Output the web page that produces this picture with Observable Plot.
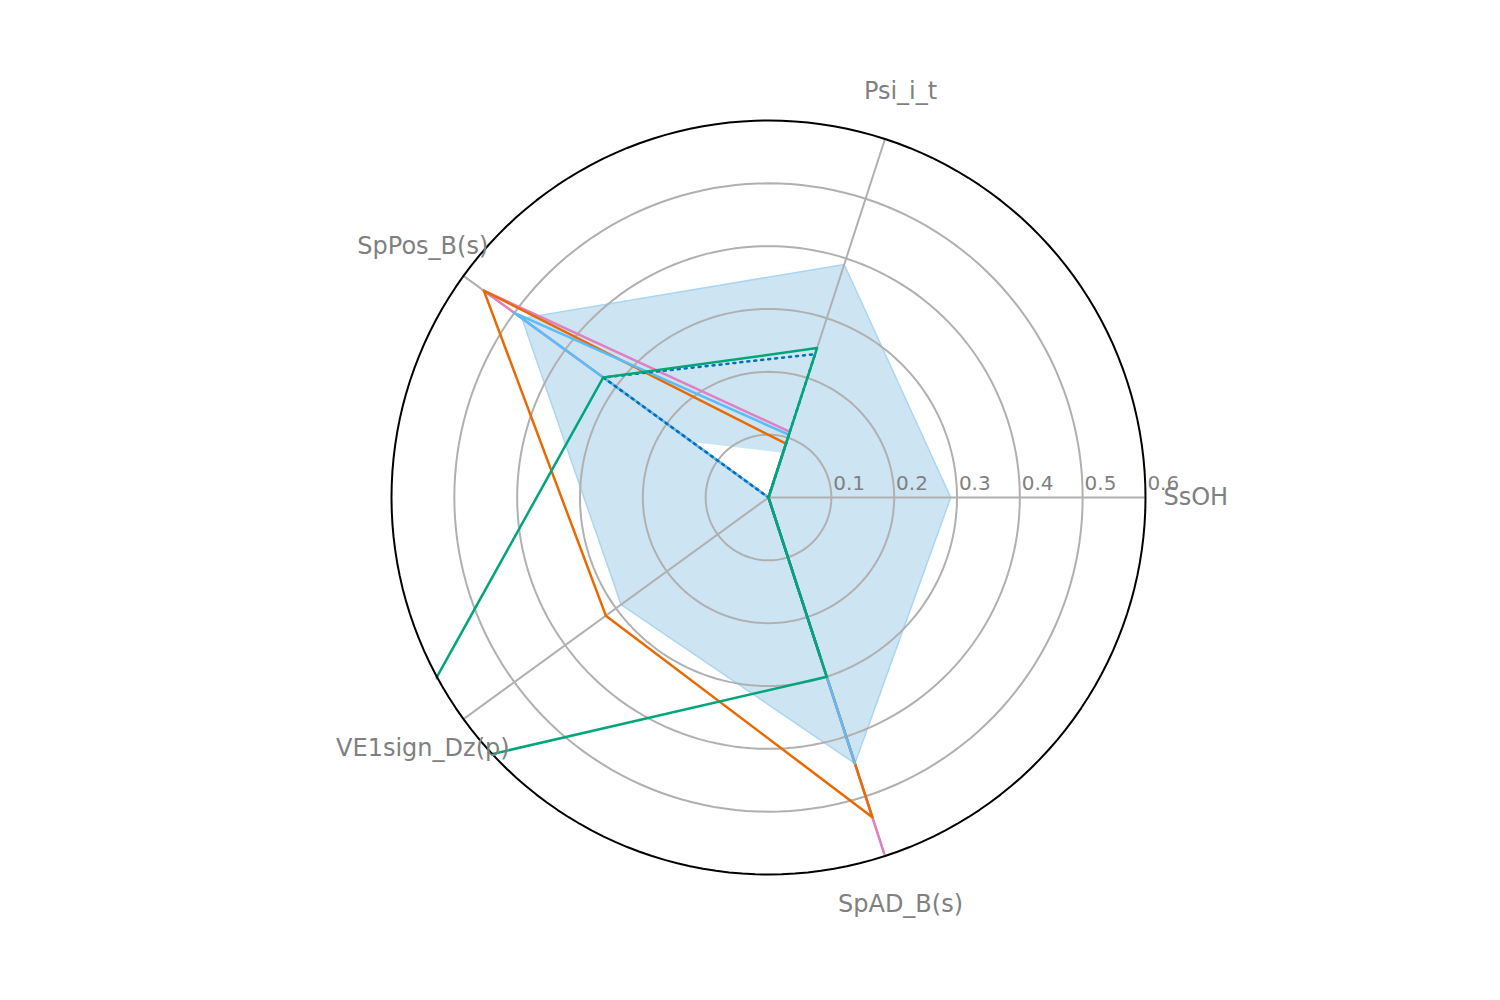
<!DOCTYPE html>
<html>
<head>
<meta charset="utf-8">
<script src="https://cdn.jsdelivr.net/npm/d3@7"></script>
<script src="https://cdn.jsdelivr.net/npm/@observablehq/plot@0.6"></script>
<style>body{margin:0;background:#fff;font-family:"DejaVu Sans",sans-serif}</style>
</head>
<body>
<div id="chart"></div>
<script>
const axes = ["SsOH", "Psi_i_t", "SpPos_B(s)", "VE1sign_Dz(p)", "SpAD_B(s)"];
const ticks = [0.1, 0.2, 0.3, 0.4, 0.5, 0.6];
// band (shaded range)
const bandHigh = [0.29, 0.39, 0.485, 0.29, 0.445];
const bandLow = [0, 0.075, 0.15, 0, 0];
// series
const pink = [0, 0.11, 0.56, 0, 0.595];
const orange = [0, 0.09, 0.56, 0.32, 0.535];
const lightBlue = [0, 0.105, 0.5, 0, 0.445];
const dotted = [0, 0.24, 0.325, 0, 0.265];
const green = [0, 0.25, 0.325, 0.765, 0.3];

const ang = i => i * 2 * Math.PI / axes.length;
const pts = vals => [...vals, vals[0]].map((v, i) => ({x: v * Math.cos(ang(i % axes.length)), y: v * Math.sin(ang(i % axes.length))}));

const ring = r => d3.range(0, 361, 2).map(a => ({r, x: r * Math.cos(a * Math.PI / 180), y: r * Math.sin(a * Math.PI / 180)}));
const rings = ticks.flatMap(ring);

const series = [
  {v: pink, c: "#e17fc3"},
  {v: orange, c: "#e86a00"},
  {v: lightBlue, c: "#5bbcf7"},
  {v: dotted, c: "#0072b2", dash: "2,5"},
  {v: green, c: "#00a67a"}
];

const chart = Plot.plot({
  width: 1500,
  height: 1000,
  marginLeft: 391, marginRight: 355, marginTop: 120, marginBottom: 126,
  x: {domain: [-0.6, 0.6], axis: null},
  y: {domain: [-0.6, 0.6], axis: null},
  style: {fontFamily: "DejaVu Sans", overflow: "visible"},
  marks: [
    Plot.line(pts(bandHigh), {x: "x", y: "y", fill: "#c4dff0", fillOpacity: 0.85, stroke: "#a9d6f2", strokeWidth: 1.5}),
    Plot.line(pts(bandLow), {x: "x", y: "y", fill: "white", stroke: "none"}),
    Plot.line(rings.filter(d => d.r < 0.6), {x: "x", y: "y", z: "r", stroke: "#b0b0b0", strokeWidth: 2}),
    Plot.link(axes, {x1: 0, y1: 0, x2: (d, i) => 0.6 * Math.cos(ang(i)), y2: (d, i) => 0.6 * Math.sin(ang(i)), stroke: "#b0b0b0", strokeWidth: 2}),
    ...series.map(s => Plot.line(pts(s.v), {x: "x", y: "y", stroke: s.c, strokeWidth: 2.5, strokeDasharray: s.dash})),
    // white annulus masking anything beyond the outer ring
    Plot.line(ring(0.714), {x: "x", y: "y", stroke: "white", strokeWidth: 140}),
    Plot.line(ring(0.6), {x: "x", y: "y", stroke: "black", strokeWidth: 2}),
    Plot.text(ticks, {x: d => d + 0.003, y: 0.012, text: d => String(d), textAnchor: "start", lineAnchor: "bottom", fontSize: 20, fill: "#808080"}),
    Plot.text(axes, {x: (d, i) => 0.68 * Math.cos(ang(i)), y: (d, i) => 0.68 * Math.sin(ang(i)), text: d => d, fontSize: 24, fill: "#808080"})
  ]
});

document.getElementById("chart").append(chart);
</script>
</body>
</html>
